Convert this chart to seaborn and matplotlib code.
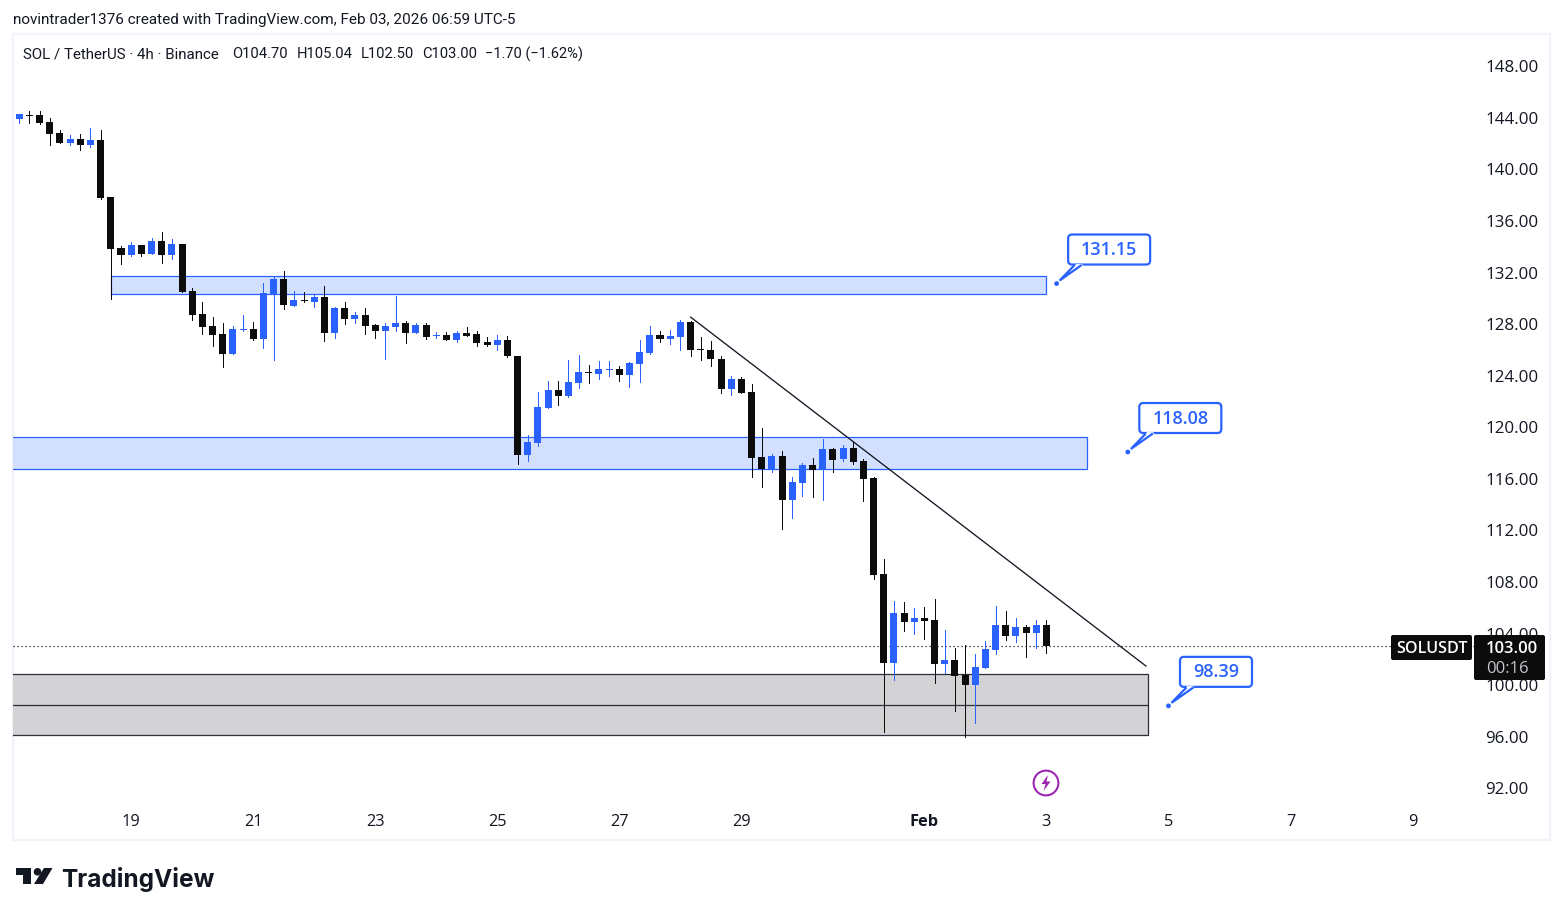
import numpy as np
import pandas as pd
import matplotlib
matplotlib.use("Agg")
import matplotlib.pyplot as plt
import matplotlib.transforms as mtransforms
from matplotlib.patches import Rectangle, FancyBboxPatch, Polygon, Circle
from matplotlib.lines import Line2D
import seaborn as sns

# SOL/USDT 4h candles
opens = [143.91,144.26,144.22,143.67,142.82,142.05,142.36,141.89,142.28,137.86,
         133.90,133.36,134.13,133.43,134.44,133.36,134.21,130.56,128.78,127.85,
         127.23,125.68,127.54,127.62,126.84,130.33,131.50,129.40,129.87,129.71,
         130.10,127.31,129.25,128.39,128.70,127.93,127.46,127.77,128.08,127.31,
         127.93,127.07,127.15,126.76,127.31,127.23,126.61,126.37,126.76,125.52,
         117.84,118.77,121.49,122.89,122.42,123.43,124.28,124.12,124.43,124.51,
         124.05,124.90,125.75,127.15,126.84,126.99,128.16,126.07,125.99,125.29,
         122.96,123.74,122.73,117.69,116.75,117.77,114.35,115.67,117.07,116.68,
         118.31,117.53,118.39,117.38,116.06,108.61,101.70,105.58,104.89,105.20,
         105.04,101.63,101.94,100.78,99.99,101.32,102.72,104.65,103.80,104.50,
         104.03,104.70]
closes = [144.30,144.18,143.62,142.74,142.05,142.36,141.89,142.28,137.78,133.82,
          133.36,134.13,133.43,134.44,133.36,134.21,130.49,128.70,127.77,127.15,
          125.68,127.62,127.62,126.84,130.41,131.50,129.48,129.87,129.79,130.10,
          127.31,129.25,128.39,128.70,127.85,127.46,127.85,128.08,127.31,127.93,
          127.00,127.15,126.76,127.31,127.07,126.53,126.37,126.76,125.52,117.84,
          118.85,121.57,122.89,122.42,123.50,124.28,124.20,124.51,124.51,124.05,
          124.98,125.83,127.15,126.84,127.07,128.16,125.99,126.00,125.29,122.96,
          123.74,122.65,117.61,116.75,117.77,114.35,115.75,117.07,116.68,118.31,
          117.45,118.39,117.30,115.98,108.53,101.70,105.58,104.89,105.20,104.97,
          101.63,101.94,100.70,99.99,101.39,102.79,104.65,103.80,104.50,104.03,
          104.65,103.00]
highs = [144.30,144.53,144.53,143.99,143.05,142.67,142.74,143.21,143.05,137.86,
         134.06,134.37,134.13,134.68,135.14,134.60,134.21,130.80,129.71,128.55,
         128.08,127.85,128.70,128.16,131.18,131.65,132.12,130.56,130.49,130.26,
         130.95,129.32,129.71,128.94,129.25,128.00,128.08,130.18,128.23,128.08,
         128.08,127.38,127.38,127.46,127.77,127.46,126.99,127.15,127.07,125.52,
         119.39,122.73,123.58,123.58,125.21,125.60,124.82,125.13,125.13,124.74,
         125.06,126.76,127.85,127.46,127.54,128.31,128.23,126.99,126.69,125.52,
         123.97,123.89,123.35,119.94,117.92,118.15,116.13,117.22,117.61,119.08,
         118.39,118.62,118.93,117.53,116.13,109.77,106.52,106.44,105.97,106.05,
         106.67,104.27,102.87,103.10,102.40,103.41,106.13,105.74,105.20,104.65,
         105.04,105.04]
lows = [143.62,143.62,143.52,141.89,142.05,141.89,141.50,141.74,137.70,129.94,
        132.66,133.28,133.28,133.43,132.74,133.05,130.49,128.31,127.23,126.30,
        124.67,125.68,127.46,126.76,126.14,125.21,129.17,129.40,129.71,129.32,
        126.69,126.92,128.00,128.08,127.23,126.92,125.29,127.46,126.53,127.31,
        126.84,126.92,126.76,126.61,127.07,126.30,126.30,125.99,125.44,117.14,
        117.38,118.54,121.49,121.72,122.34,123.04,123.43,123.74,123.97,123.58,
        123.12,123.50,125.68,126.61,126.45,125.99,125.52,125.21,124.75,122.65,
        122.50,122.65,116.13,115.36,116.52,112.10,112.95,114.66,114.58,114.35,
        116.52,117.38,117.14,114.27,108.22,96.35,100.39,104.19,103.95,103.57,
        100.15,100.93,97.98,95.96,97.05,101.32,102.40,103.49,103.33,102.17,
        102.87,102.50]

price_ticks = [92, 96, 100, 104, 108, 112, 116, 120, 124, 128, 132, 136, 140, 144, 148]
date_ticks = [11, 23, 35, 47, 59, 71, 89, 101, 113, 125, 137]
date_labels = ["19", "21", "23", "25", "27", "29", "Feb", "3", "5", "7", "9"]

# Price zones and the level each callout reports
upper_zone = (130.33, 131.73)
middle_zone = (116.76, 119.24)
lower_zone = (96.10, 100.83)
callout_levels = [131.15, 118.08, 98.39]
callout_bars = [102, 109, 113]
callout_widths = [83, 83, 73]
trend_bars = [66, 110.8]
trend_prices = [128.55, 101.47]
last_close = 103.00

BLUE = "#2962ff"
INK = "#0c0c0c"
TEXT = "#131722"
ZONE_BLUE = "#d2dffe"
ZONE_GRAY = "#d3d3d6"
EDGE_GRAY = "#2a2e39"
FONT = "Open Sans"

sns.set_theme(style="white")
plt.rcParams["font.family"] = [FONT, "DejaVu Sans"]

W, H = 1563, 915
fig = plt.figure(figsize=(W / 100, H / 100), dpi=100, facecolor="white")
ax = fig.add_axes([13 / W, 1 - 805 / H, (1480 - 13) / W, (805 - 34) / H])
ax.set_zorder(1)
ax.patch.set_alpha(0)

# Top-left pixel coordinates for the page furniture around the plot
page = mtransforms.Affine2D().scale(1 / W, -1 / H).translate(0, 1) + fig.transFigure

df = pd.DataFrame({"o": opens, "h": highs, "l": lows, "c": closes})
df["i"] = np.arange(len(df))
df["base"] = df[["o", "c"]].min(axis=1)
df["body"] = (df["c"] - df["o"]).abs()
df["rising"] = df["c"] >= df["o"]

for rising, color in [(True, BLUE), (False, INK)]:
    part = df[df["rising"] == rising]
    sns.barplot(data=part, x="i", y="body", bottom=part["base"].to_numpy(),
                native_scale=True, width=0.69, color=color, saturation=1,
                errorbar=None, linewidth=0, ax=ax, zorder=4)
    ax.vlines(part["i"], part["l"], part["h"], colors=color, linewidth=0.72,
              antialiased=False, zorder=3)

# Axis limits put one bar every 10.17 px and one price unit on 12.893 px
ax.set_xlim(-0.62, 143.63)
ax.set_ylim(90.70, 150.505)

far_left = -5
for (lo, hi), start, stop, fill, edge in [
    (upper_zone, 9, 101, ZONE_BLUE, BLUE),
    (middle_zone, far_left, 105, ZONE_BLUE, BLUE),
    (lower_zone, far_left, 111, ZONE_GRAY, EDGE_GRAY),
]:
    ax.add_patch(Rectangle((start, lo), stop - start, hi - lo, facecolor=fill,
                           edgecolor=edge, linewidth=0.9, zorder=2))

# Centre line of the lower zone
sns.lineplot(x=[far_left, 111], y=[sum(lower_zone) / 2] * 2, color=EDGE_GRAY,
             linewidth=0.9, ax=ax, zorder=2.5)
sns.lineplot(x=trend_bars, y=trend_prices, color="#131722", linewidth=0.95,
             ax=ax, zorder=5)
ax.axhline(last_close, color="#131722", linewidth=0.9, linestyle=(0, (1, 2.2)), zorder=1.5)

# Axis ticks
ax.yaxis.tick_right()
ax.set_yticks(price_ticks, labels=[f"{p:.2f}" for p in price_ticks])
ax.set_xticks(date_ticks, labels=date_labels)
ax.set_xlabel("")
ax.set_ylabel("")
ax.tick_params(axis="y", length=0, pad=3.9, labelsize=12.2, labelcolor=TEXT)
ax.tick_params(axis="x", length=0, pad=6.3, labelsize=11.8, labelcolor=TEXT)
for label in ax.get_xticklabels():
    if label.get_text() == "Feb":
        label.set_fontweight("bold")
sns.despine(ax=ax, left=True, bottom=True, top=True, right=True)


def callout(bar, level, width):
    """Speech-bubble price tag whose tip sits on the level it states."""
    tip_x, tip_y = ax.transData.transform((bar, level))
    tip = mtransforms.Affine2D().scale(1, -1).translate(tip_x, tip_y)
    clip = dict(transform=tip, zorder=7, clip_on=False)
    box = FancyBboxPatch((11.5, -49), width - 1, 30,
                         boxstyle="round,pad=0,rounding_size=4",
                         facecolor="white", edgecolor=BLUE, linewidth=1.6, **clip)
    ax.add_patch(box)
    ax.add_line(Line2D([19, 24], [-19, -19], color="white", linewidth=2,
                       transform=tip, zorder=7.1, clip_on=False))
    ax.add_patch(Polygon([(25, -18.5), (3, -3), (18, -18.5)], closed=False,
                         facecolor="white", edgecolor=BLUE, linewidth=1.6,
                         transform=tip, zorder=7.2, clip_on=False))
    ax.add_patch(Circle((0, 0), 2.4, facecolor=BLUE, edgecolor="none",
                        transform=tip, zorder=7.4, clip_on=False))
    ax.text(11 + width / 2, -33.5, f"{level:.2f}", color=BLUE, fontsize=13,
            fontweight="semibold", ha="center", va="center", transform=tip,
            zorder=8, clip_on=False)


for bar, level, width in zip(callout_bars, callout_levels, callout_widths):
    callout(bar, level, width)

# Chart frame and header lines
fig.add_artist(Rectangle((12.5, 34), 1537.5, 806, transform=page, facecolor="none",
                         edgecolor="#f0f3fa", linewidth=1.6, zorder=0))
fig.text(13 / W, 1 - 20 / H, "novintrader1376 created with TradingView.com, Feb 03, 2026 06:59 UTC-5",
         fontsize=10.95, color=TEXT, va="center", ha="left", family="Roboto")
header = ["SOL / TetherUS · 4h · Binance", "O104.70", "H105.04", "L102.50", "C103.00", "−1.70 (−1.62%)"]
header_x = [23, 232, 296.5, 360.5, 422, 485]
for x, part, size in zip(header_x, header, [10.9, 10.6, 10.6, 10.6, 10.6, 10.55]):
    fig.text(x / W, 1 - 54.5 / H, part, fontsize=size, color=TEXT, va="center",
             ha="left", family="Roboto")

# Last-price tags over the axis labels
fig.add_artist(FancyBboxPatch((1391, 635), 81, 25, boxstyle="round,pad=0,rounding_size=2",
                              transform=page, facecolor="#0c0c0c", edgecolor="none", zorder=5))
fig.add_artist(FancyBboxPatch((1474, 635), 71, 45, boxstyle="round,pad=0,rounding_size=2",
                              transform=page, facecolor="#0c0c0c", edgecolor="none", zorder=5))
fig.text(1432 / W, 1 - 649 / H, "SOLUSDT", color="white", fontsize=11.6, ha="center",
         va="center", zorder=6, fontweight="semibold")
fig.text(1512 / W, 1 - 649 / H, f"{last_close:.2f}", color="white", fontsize=12,
         ha="center", va="center", zorder=6, fontweight="semibold")
fig.text(1507 / W, 1 - 669 / H, "00:16", color="#c4c6cc", fontsize=12, ha="center",
         va="center", zorder=6)

# Lightning marker under the last session
fig.add_artist(Circle((1046, 783), 12.4, transform=page, facecolor="white",
                      edgecolor="#9c27b0", linewidth=1.5, zorder=5))
fig.add_artist(Polygon([(1048, 775), (1041.5, 784), (1045.5, 784), (1043.5, 791),
                        (1050.5, 781.5), (1046.5, 781.5)], closed=True, transform=page,
                       facecolor="#9c27b0", edgecolor="none", zorder=6))

# Brand mark in the footer
fig.add_artist(Polygon([(16, 868), (31, 868), (31, 884), (23, 884), (23, 875), (16, 875)],
                       closed=True, transform=page, facecolor=TEXT, edgecolor="none"))
fig.add_artist(Circle((37.5, 871.8), 3.8, transform=page, facecolor=TEXT, edgecolor="none"))
fig.add_artist(Polygon([(44, 868), (52.5, 868), (43, 884), (34, 884)], closed=True,
                       transform=page, facecolor=TEXT, edgecolor="none"))
fig.text(61 / W, 1 - 879 / H, "TradingView", fontsize=17.6, fontweight="bold",
         color=TEXT, ha="left", va="center", family="Inter")

fig.savefig("out.png", dpi=100)
